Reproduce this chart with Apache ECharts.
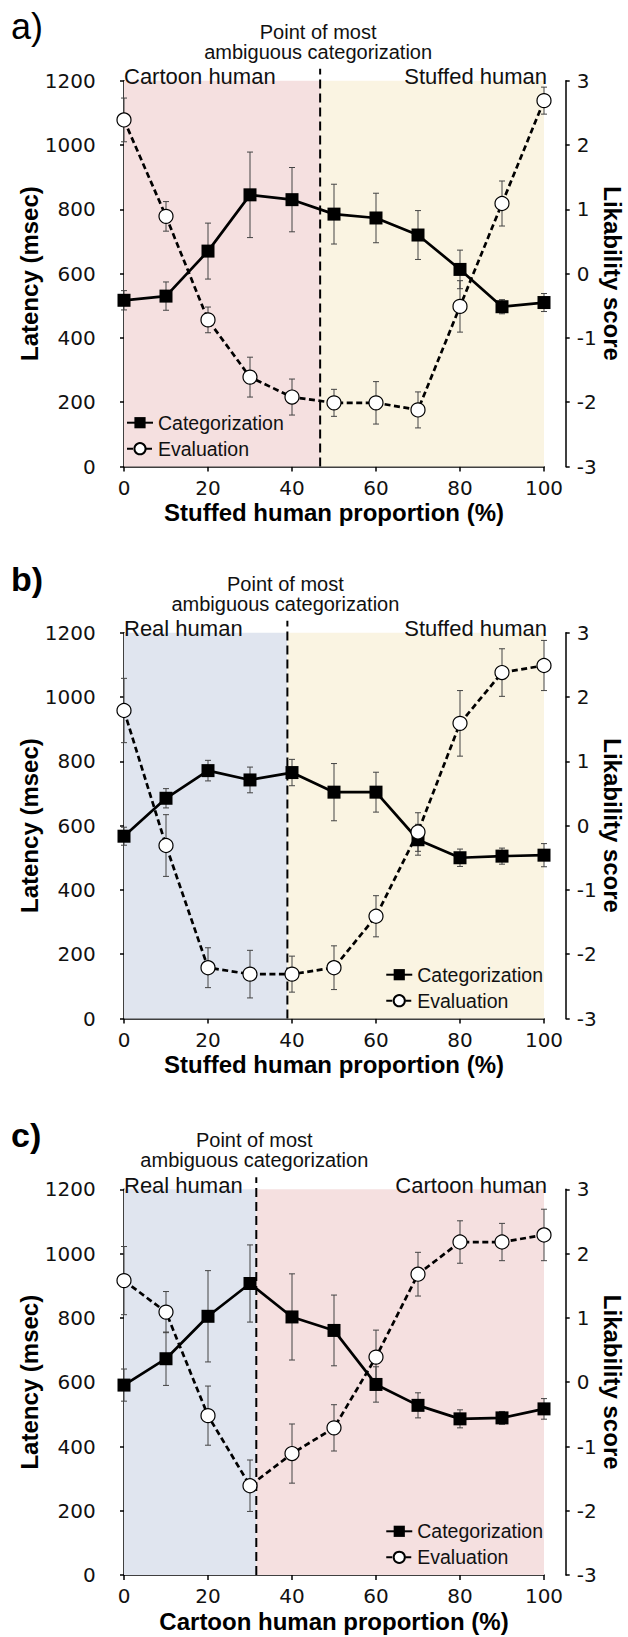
<!DOCTYPE html>
<html><head><meta charset="utf-8">
<script src="https://cdn.jsdelivr.net/npm/echarts@6/dist/echarts.min.js"></script>
<style>html,body{margin:0;padding:0;background:#fff}#c{width:628px;height:1637px}</style>
</head><body><div id="c"></div>
<script>
// ---- data ----
const proportions = [0, 10, 20, 30, 40, 50, 60, 70, 80, 90, 100];
const latencyRange = [0, 1200, 200];
const likabilityRange = [-3, 3, 1];
const proportionRange = [0, 100, 20];

const panelLetters = ['a)', 'b)', 'c)'];
const xTitles = ['Stuffed human proportion (%)', 'Stuffed human proportion (%)', 'Cartoon human proportion (%)'];
const regionNamesA = ['Cartoon human', 'Stuffed human'];
const regionNamesB = ['Real human', 'Stuffed human'];
const regionNamesC = ['Real human', 'Cartoon human'];
const ambiguousPoints = [46.7, 38.9, 31.5];

const catA = [517, 530, 670, 845, 830, 785, 773, 720, 613, 497, 510];
const catAErr = [30, 44, 87, 133, 100, 93, 77, 76, 60, 22, 28];
const evalA = [2.39, 0.89, -0.72, -1.61, -1.92, -2.01, -2.01, -2.12, -0.51, 1.09, 2.69];
const evalAErr = [0.34, 0.23, 0.20, 0.31, 0.28, 0.21, 0.33, 0.28, 0.40, 0.35, 0.21];

const catB = [567, 685, 771, 742, 765, 704, 704, 556, 500, 505, 508];
const catBErr = [28, 30, 32, 40, 41, 89, 62, 48, 27, 25, 36];
const evalB = [1.79, -0.31, -2.21, -2.31, -2.31, -2.21, -1.41, -0.10, 1.59, 2.38, 2.49];
const evalBErr = [0.50, 0.48, 0.31, 0.37, 0.28, 0.34, 0.32, 0.30, 0.51, 0.37, 0.39];

const catC = [591, 673, 805, 907, 803, 761, 593, 528, 486, 489, 517];
const catCErr = [50, 83, 142, 120, 134, 110, 55, 39, 28, 20, 32];
const evalC = [1.58, 1.09, -0.52, -1.61, -1.11, -0.71, 0.39, 1.68, 2.18, 2.18, 2.29];
const evalCErr = [0.53, 0.32, 0.46, 0.40, 0.46, 0.36, 0.42, 0.34, 0.33, 0.29, 0.40];

// ---- styles ----
const PINK = '#f5e0e0', CREAM = '#faf4e2', BLUE = '#e0e5ef';
const FONT = "'Liberation Sans', Arial, sans-serif";
const NUMFONT = "'DejaVu Sans', sans-serif";

const panels = [
  {cat: catA, catErr: catAErr, ev: evalA, evErr: evalAErr, regions: regionNamesA, colors: [PINK, CREAM], legendSide: 'left'},
  {cat: catB, catErr: catBErr, ev: evalB, evErr: evalBErr, regions: regionNamesB, colors: [BLUE, CREAM], legendSide: 'right'},
  {cat: catC, catErr: catCErr, ev: evalC, evErr: evalCErr, regions: regionNamesC, colors: [BLUE, PINK], legendSide: 'right'}
];
const gridTops = [80.7, 632.7, 1189.3];
const GRID_LEFT = 124, GRID_W = 420, GRID_H = 385.8;

function errorBarItem(params, api) {
  const x = api.value(0), y = api.value(1), e = api.value(2);
  const top = api.coord([x, y + e]);
  const bot = api.coord([x, y - e]);
  const w = 3;
  const style = {stroke: '#444', lineWidth: 1};
  return {type: 'group', children: [
    {type: 'line', shape: {x1: top[0], y1: top[1], x2: bot[0], y2: bot[1]}, style},
    {type: 'line', shape: {x1: top[0] - w, y1: top[1], x2: top[0] + w, y2: top[1]}, style},
    {type: 'line', shape: {x1: bot[0] - w, y1: bot[1], x2: bot[0] + w, y2: bot[1]}, style}
  ]};
}

function boundaryItem(params, api) {
  const b = api.value(0);
  const p0 = api.coord([b, latencyRange[0]]);
  const p1 = api.coord([b, latencyRange[1]]);
  const tStyle = (t) => ({text: t, fill: '#111', fontSize: 20, fontFamily: FONT, align: 'center', verticalAlign: 'middle'});
  return {type: 'group', children: [
    {type: 'line', shape: {x1: p0[0], y1: p0[1], x2: p1[0], y2: p1[1] - 12},
     style: {stroke: '#000', lineWidth: 2, lineDash: [9, 5]}},
    {type: 'text', x: p1[0] - 2, y: p1[1] - 49, style: tStyle('Point of most')},
    {type: 'text', x: p1[0] - 2, y: p1[1] - 29, style: tStyle('ambiguous categorization')}
  ]};
}

const grid = [], xAxis = [], yAxis = [], series = [], legend = [], graphic = [];
panels.forEach((p, i) => {
  grid.push({left: GRID_LEFT, top: gridTops[i], width: GRID_W, height: GRID_H,
    containLabel: false, outerBoundsMode: 'none'});
  xAxis.push({
    type: 'value', gridIndex: i, min: proportionRange[0], max: proportionRange[1], interval: proportionRange[2],
    splitLine: {show: false},
    axisLine: {show: true, lineStyle: {color: '#000', width: 1.5}},
    axisTick: {show: true, length: 5, lineStyle: {color: '#000', width: 1.5}},
    axisLabel: {color: '#111', fontSize: 20, fontFamily: NUMFONT, margin: 11},
    name: xTitles[i], nameLocation: 'middle', nameGap: 34, nameMoveOverlap: false,
    nameTextStyle: {color: '#000', fontSize: 24, fontWeight: 'bold', fontFamily: FONT}
  });
  yAxis.push({
    type: 'value', gridIndex: i, position: 'left', offset: 21.3,
    min: latencyRange[0], max: latencyRange[1], interval: latencyRange[2],
    splitLine: {show: false},
    axisLine: {show: true, lineStyle: {color: '#000', width: 1.5}},
    axisTick: {show: true, length: 4, lineStyle: {color: '#000', width: 1.5}},
    axisLabel: {color: '#111', fontSize: 20, fontFamily: NUMFONT, margin: 7, formatter: (v) => String(v)},
    name: 'Latency (msec)', nameLocation: 'middle', nameGap: 61, nameRotate: 90, nameMoveOverlap: false,
    nameTextStyle: {color: '#000', fontSize: 24, fontWeight: 'bold', fontFamily: FONT}
  });
  yAxis.push({
    type: 'value', gridIndex: i, position: 'right', offset: 21.7,
    min: likabilityRange[0], max: likabilityRange[1], interval: likabilityRange[2],
    splitLine: {show: false},
    axisLine: {show: true, lineStyle: {color: '#000', width: 1.5}},
    axisTick: {show: true, length: 4, lineStyle: {color: '#000', width: 1.5}},
    axisLabel: {color: '#111', fontSize: 20, fontFamily: NUMFONT, margin: 11, formatter: (v) => String(v)},
    name: 'Likability score', nameLocation: 'middle', nameGap: 35, nameRotate: -90, nameMoveOverlap: false,
    nameTextStyle: {color: '#000', fontSize: 24, fontWeight: 'bold', fontFamily: FONT}
  });
  const yl = i * 2, yr = i * 2 + 1;
  const b = ambiguousPoints[i];
  const regLabel = (pos, off) => ({show: true, position: pos, distance: 0, offset: off,
    color: '#111', fontSize: 22, fontFamily: FONT});
  series.push({
    type: 'custom', name: 'catErr' + i, xAxisIndex: i, yAxisIndex: yl, z: 3, silent: true,
    renderItem: errorBarItem,
    data: proportions.map((x, k) => [x, p.cat[k], p.catErr[k]])
  });
  series.push({
    type: 'custom', name: 'evErr' + i, xAxisIndex: i, yAxisIndex: yr, z: 3, silent: true,
    renderItem: errorBarItem,
    data: proportions.map((x, k) => [x, p.ev[k], p.evErr[k]])
  });
  series.push({
    type: 'custom', name: 'boundary' + i, xAxisIndex: i, yAxisIndex: yl, z: 4, silent: true, clip: false,
    renderItem: boundaryItem, data: [[b]]
  });
  series.push({
    type: 'line', name: 'Categorization', xAxisIndex: i, yAxisIndex: yl, z: 5,
    data: proportions.map((x, k) => [x, p.cat[k]]),
    symbol: 'rect', symbolSize: 13,
    itemStyle: {color: '#000'},
    lineStyle: {color: '#000', width: 2.7},
    markArea: {
      silent: true, z: 1,
      data: [
        [{name: p.regions[0], xAxis: proportionRange[0], itemStyle: {color: p.colors[0]},
          label: regLabel('insideTopLeft', [0, -15])}, {xAxis: b}],
        [{name: p.regions[1], xAxis: b, itemStyle: {color: p.colors[1]},
          label: regLabel('insideTopRight', [3, -15])}, {xAxis: proportionRange[1]}]
      ]
    }
  });
  series.push({
    type: 'line', name: 'Evaluation', xAxisIndex: i, yAxisIndex: yr, z: 6,
    data: proportions.map((x, k) => [x, p.ev[k]]),
    symbol: 'circle', symbolSize: 14,
    itemStyle: {color: '#fff', borderColor: '#000', borderWidth: 1.2},
    lineStyle: {color: '#000', width: 2.7, type: [6, 3.5]}
  });
  const lg = {
    data: ['Categorization', 'Evaluation'], orient: 'vertical', top: gridTops[i] + 332,
    itemWidth: 26, itemHeight: 14, itemGap: 6, padding: 0, selectedMode: false, align: 'left',
    textStyle: {fontSize: 19.5, fontFamily: FONT, color: '#111'}
  };
  if (p.legendSide === 'left') lg.left = 126; else lg.right = 85;
  legend.push(lg);
  graphic.push({
    type: 'text', x: 11, y: gridTops[i] - 54,
    style: {text: panelLetters[i], fill: '#000', fontSize: i === 0 ? 36 : 34,
      fontWeight: i === 0 ? 'normal' : 'bold', fontFamily: FONT, verticalAlign: 'middle'}
  });
});

const chart = echarts.init(document.getElementById('c'), null, {renderer: 'svg', width: 628, height: 1637});
chart.setOption({animation: false, backgroundColor: '#fff', grid, xAxis, yAxis, series, legend, graphic});
</script></body></html>
